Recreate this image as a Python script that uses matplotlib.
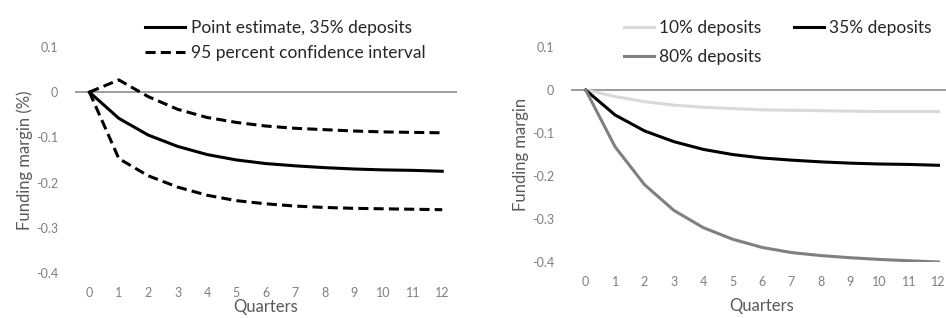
import matplotlib.pyplot as plt
import numpy as np

plt.rcParams['font.family'] = ['Lato', 'DejaVu Sans']

quarters = list(range(13))
tick_labels = [str(q) for q in quarters]

# Left panel: point estimate and 95% CI
point_35 = [0, -0.058, -0.095, -0.12, -0.138, -0.15, -0.158, -0.163, -0.167, -0.170, -0.172, -0.173, -0.175]
ci_upper = [0, 0.027, -0.010, -0.038, -0.056, -0.067, -0.075, -0.080, -0.083, -0.086, -0.088, -0.089, -0.090]
ci_lower = [0, -0.147, -0.185, -0.210, -0.228, -0.240, -0.247, -0.252, -0.255, -0.257, -0.258, -0.259, -0.260]

# Right panel: deposit shares
dep_10 = [0, -0.015, -0.027, -0.035, -0.040, -0.043, -0.046, -0.047, -0.048, -0.049, -0.050, -0.050, -0.050]
dep_35 = point_35
dep_80 = [0, -0.132, -0.220, -0.280, -0.320, -0.347, -0.366, -0.378, -0.385, -0.390, -0.394, -0.397, -0.400]

yticks = [0.1, 0, -0.1, -0.2, -0.3, -0.4]
ytick_labels = ['0.1', '0', '-0.1', '-0.2', '-0.3', '-0.4']

tick_col = '#7f7f7f'
lab_col = '#595959'

fig = plt.figure(figsize=(9.46, 3.18), dpi=100)
ax1 = fig.add_axes([0.079, 0.1415, 0.404, 0.711])
ax2 = fig.add_axes([0.6036, 0.176, 0.404, 0.676])


def style(ax, ylabel, xpad):
    ax.set_xlim(-0.5, 12.5)
    ax.set_ylim(-0.4, 0.1)
    ax.axhline(0, color='#8c8c8c', lw=1.2, zorder=1)
    for s in ax.spines.values():
        s.set_visible(False)
    ax.set_xticks(quarters)
    ax.set_xticklabels(tick_labels)
    ax.set_yticks(yticks)
    ax.set_yticklabels(ytick_labels)
    ax.tick_params(length=0, labelsize=9, labelcolor=tick_col)
    ax.tick_params(axis='x', pad=10)
    ax.tick_params(axis='y', pad=12)
    ax.set_ylabel(ylabel, fontsize=12, color=lab_col, labelpad=2)
    ax.set_xlabel('Quarters', fontsize=12, color=lab_col, labelpad=xpad)
    ax.patch.set_alpha(0)


style(ax1, 'Funding margin (%)', 0)
ax1.plot(quarters, point_35, color='black', lw=2.2, label='Point estimate, 35% deposits')
ax1.plot(quarters, ci_upper, color='black', lw=2.2, ls=(0, (3.3, 1.7)), label='95 percent confidence interval')
ax1.plot(quarters, ci_lower, color='black', lw=2.2, ls=(0, (3.3, 1.7)))
ax1.legend(loc='upper left', bbox_to_anchor=(0.137, 0.985), bbox_transform=fig.transFigure,
           frameon=False, fontsize=12.5, handlelength=2.3, handletextpad=0.35,
           labelspacing=0.5, labelcolor='#262626')

style(ax2, 'Funding margin', 7)
l10, = ax2.plot(quarters, dep_10, color='#d9d9d9', lw=2.2, label='10% deposits')
l35, = ax2.plot(quarters, dep_35, color='black', lw=2.2, label='35% deposits')
l80, = ax2.plot(quarters, dep_80, color='#808080', lw=2.2, label='80% deposits')
ax2.legend(handles=[l10, l80, l35], loc='upper left', bbox_to_anchor=(0.643, 0.985),
           bbox_transform=fig.transFigure, frameon=False, fontsize=12.5, ncol=2,
           handlelength=1.75, handletextpad=0.25, columnspacing=1.9,
           labelspacing=0.72, labelcolor='#262626')

fig.savefig('out.png', dpi=100)
